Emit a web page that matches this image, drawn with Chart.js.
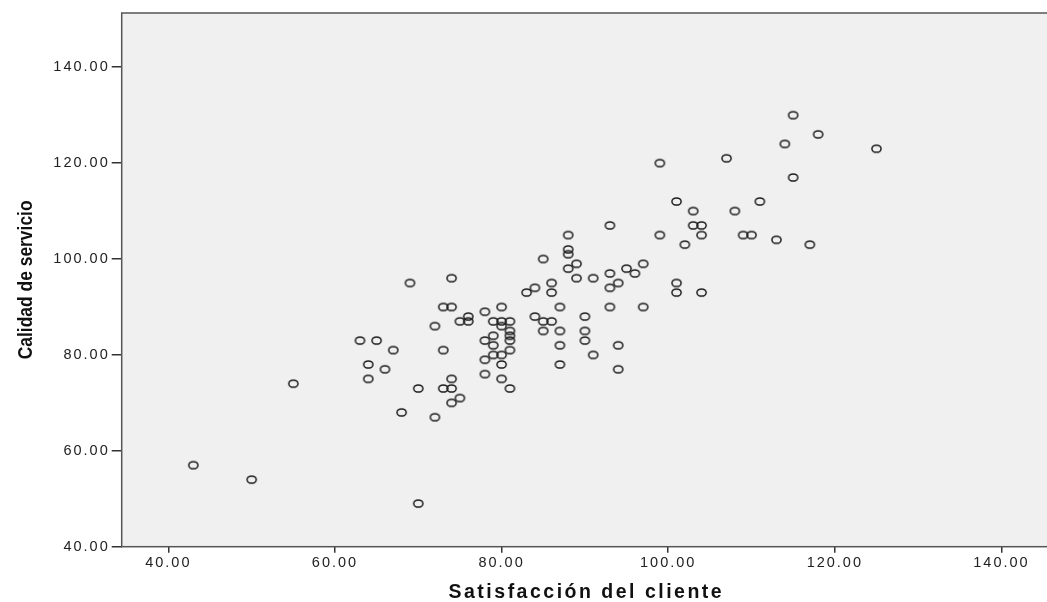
<!DOCTYPE html>
<html>
<head>
<meta charset="utf-8">
<script src="https://cdn.jsdelivr.net/npm/chart.js@4.4.1/dist/chart.umd.min.js"></script>
<style>
  html, body { margin: 0; padding: 0; background: #fff; overflow: hidden; }
  #wrap { width: 1047px; height: 602px; position: relative; }
</style>
</head>
<body>
<div id="wrap"><canvas id="scatterChart"></canvas></div>
<script>
// Satisfacción del cliente (x) vs Calidad de servicio (y)
const satisfaccion = [
  43, 50, 70, 55, 64, 66, 64, 70, 74, 73, 74, 75, 74, 68, 72,
  69, 74, 73, 74, 76, 75, 76, 72, 78, 80, 79, 80, 81, 80, 81,
  81, 81, 79, 78, 79, 81, 79, 80, 78, 80, 78, 80, 81, 63, 65,
  67, 73, 85, 88, 89, 89, 83, 84, 86, 86, 87, 84, 85, 86, 85,
  87, 87, 87, 101, 111, 103, 108, 93, 103, 104, 99, 104, 109, 110, 113,
  102, 88, 88, 88, 91, 93, 95, 97, 96, 94, 93, 101, 101, 104, 93,
  97, 90, 90, 90, 94, 91, 94, 115, 118, 114, 125, 107, 99, 115, 117
];
const calidad = [
  57, 54, 49, 74, 78, 77, 75, 73, 75, 73, 73, 71, 70, 68, 67,
  95, 96, 90, 90, 88, 87, 87, 86, 89, 90, 87, 87, 87, 86, 85,
  84, 83, 84, 83, 82, 81, 80, 80, 79, 78, 76, 75, 73, 83, 83,
  81, 81, 100, 98, 99, 96, 93, 94, 95, 93, 90, 88, 87, 87, 85,
  85, 82, 78, 112, 112, 110, 110, 107, 107, 107, 105, 105, 105, 105, 104,
  103, 105, 102, 101, 96, 97, 98, 99, 97, 95, 94, 95, 93, 93, 90,
  90, 88, 85, 83, 82, 80, 77, 130, 126, 124, 123, 121, 120, 117, 103
];
const xTicks = [40, 60, 80, 100, 120, 140];
const yTicks = [40, 60, 80, 100, 120, 140];
const xTitle = 'Satisfacción del cliente';
const yTitle = 'Calidad de servicio';

const puntos = satisfaccion.map((x, i) => ({ x: x, y: calidad[i] }));

// open ellipse marker, a bit wider than tall like the original
const marker = document.createElement('canvas');
marker.width = 13;
marker.height = 11;
const mctx = marker.getContext('2d');
mctx.strokeStyle = '#1c1c1c';
mctx.lineWidth = 1.5;
mctx.beginPath();
mctx.ellipse(6.5, 5.5, 4.6, 3.6, 0, 0, Math.PI * 2);
mctx.stroke();

const frame = {
  id: 'frame',
  beforeDraw(chart) {
    const { ctx, chartArea: a } = chart;
    ctx.save();
    ctx.fillStyle = '#f0f0f0';
    ctx.fillRect(a.left, a.top, chart.width - a.left, a.bottom - a.top);
    ctx.restore();
    // tick labels in the original are widely spaced
    ctx.letterSpacing = '2px';
  },
  afterDraw(chart) {
    const { ctx, chartArea: a } = chart;
    ctx.save();
    ctx.strokeStyle = '#555';
    ctx.lineWidth = 1.5;
    ctx.strokeRect(a.left, a.top, chart.width - a.left + 2, a.bottom - a.top);

    ctx.fillStyle = '#111';
    ctx.textAlign = 'center';
    ctx.textBaseline = 'alphabetic';
    ctx.letterSpacing = '2.5px';
    ctx.font = 'bold 19.5px "Liberation Sans", Arial, sans-serif';
    ctx.fillText(xTitle, (a.left + chart.width) / 2 + 2, 598);

    ctx.letterSpacing = '0px';
    ctx.translate(32, (a.top + a.bottom) / 2);
    ctx.rotate(-Math.PI / 2);
    ctx.scale(0.83, 1);
    ctx.font = 'bold 21px "Liberation Sans", Arial, sans-serif';
    ctx.fillText(yTitle, 0, 0);
    ctx.restore();
  }
};

const tickFont = { family: 'Liberation Sans, Arial, sans-serif', size: 14.5 };

new Chart(document.getElementById('scatterChart'), {
  type: 'scatter',
  data: {
    datasets: [{
      label: yTitle,
      data: puntos,
      pointStyle: marker,
      pointRadius: 5,
      pointHoverRadius: 5
    }]
  },
  options: {
    responsive: true,
    maintainAspectRatio: false,
    animation: false,
    layout: { padding: { top: 13, right: 0, bottom: 0, left: 0 } },
    plugins: {
      legend: { display: false },
      tooltip: { enabled: false }
    },
    scales: {
      x: {
        type: 'linear',
        min: 34.4,
        max: 144.75,
        afterBuildTicks: (s) => { s.ticks = xTicks.map(v => ({ value: v })); },
        afterFit: (s) => { s.height = 55.3; s.paddingLeft = 0; s.paddingRight = 0; },
        border: { display: false },
        grid: { drawOnChartArea: false, drawTicks: true, tickLength: 6, color: '#333', lineWidth: 1.5 },
        ticks: {
          color: '#222',
          font: tickFont,
          padding: 2,
          maxRotation: 0,
          callback: (v) => Number(v).toFixed(2)
        }
      },
      y: {
        type: 'linear',
        min: 40,
        max: 151.3,
        afterBuildTicks: (s) => { s.ticks = yTicks.map(v => ({ value: v })); },
        afterFit: (s) => { s.width = 121.7; },
        border: { display: false },
        grid: { drawOnChartArea: false, drawTicks: true, tickLength: 10, color: '#333', lineWidth: 1.5 },
        ticks: {
          color: '#222',
          font: tickFont,
          padding: 2,
          callback: (v) => Number(v).toFixed(2)
        }
      }
    }
  },
  plugins: [frame]
});
</script>
</body>
</html>
